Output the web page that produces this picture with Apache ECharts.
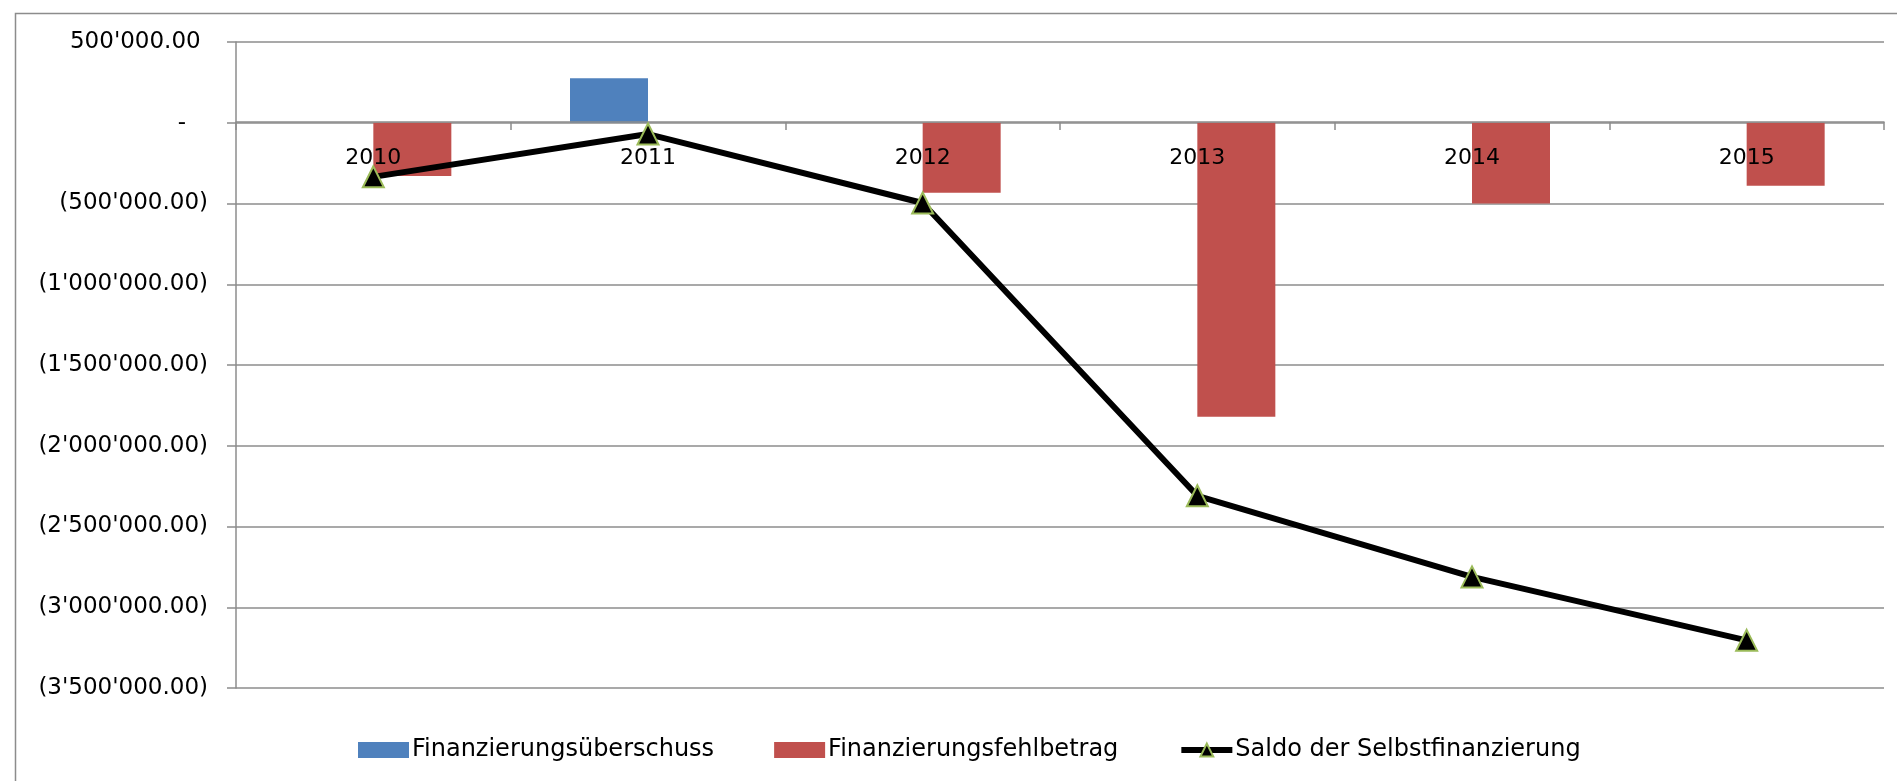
<!DOCTYPE html>
<html>
<head>
<meta charset="utf-8">
<script src="https://cdn.jsdelivr.net/npm/echarts@6/dist/echarts.min.js"></script>
<style>
  html, body { margin: 0; padding: 0; background: #fff; }
  #chart { width: 1897px; height: 781px; }
</style>
</head>
<body>
<div id="chart"></div>
<script>
// Jahre
var years = ['2010', '2011', '2012', '2013', '2014', '2015'];
// Finanzierungsüberschuss (blau)
var ueberschuss = [null, 275000, null, null, null, null];
// Finanzierungsfehlbetrag (rot)
var fehlbetrag = [-330000, null, -433000, -1820000, -500000, -390000];
// Saldo der Selbstfinanzierung (Linie)
var saldo = [-335000, -70000, -497000, -2310000, -2812000, -3205000];

var FONT = 'DejaVu Sans';

function fmt(v) {
  if (v === 0) return '-   ';
  var s = Math.abs(v).toFixed(2);
  var parts = s.split('.');
  var intPart = parts[0].replace(/\B(?=(\d{3})+(?!\d))/g, "'");
  var out = intPart + '.' + parts[1];
  return v < 0 ? '(' + out + ')' : out + ' ';
}

var chart = echarts.init(document.getElementById('chart'));

var option = {
  animation: false,
  backgroundColor: '#fff',
  graphic: [{
    type: 'rect',
    left: 13, top: 11,
    shape: { width: 1920, height: 800 },
    style: { fill: 'none', stroke: '#8c8c8c', lineWidth: 1.5 },
    silent: true
  }],
  grid: { left: 236, right: 13, top: 42, bottom: 93 },
  legend: {
    left: 353,
    top: 733,
    itemWidth: 51,
    itemHeight: 16,
    itemGap: 60,
    textStyle: { fontFamily: FONT, fontSize: 24, color: '#000', padding: [0, 0, 0, -2] },
    data: [
      { name: 'Finanzierungsüberschuss', icon: 'rect' },
      { name: 'Finanzierungsfehlbetrag', icon: 'rect' },
      { name: 'Saldo der Selbstfinanzierung', lineStyle: { width: 6 } }
    ]
  },
  xAxis: {
    type: 'category',
    data: years,
    boundaryGap: true,
    position: 'bottom',
    offset: -566,
    z: 5,
    axisLine: { onZero: false, lineStyle: { color: '#8c8c8c', width: 1.5 } },
    axisTick: { show: true, length: 8, alignWithLabel: false, lineStyle: { color: '#8c8c8c', width: 1.5 } },
    axisLabel: { margin: 25, fontFamily: FONT, fontSize: 22, color: '#000' },
    splitLine: { show: false }
  },
  yAxis: {
    type: 'value',
    min: -3500000,
    max: 500000,
    interval: 500000,
    axisLine: { show: true, lineStyle: { color: '#8c8c8c', width: 1.5 } },
    axisTick: { show: true, length: 9, lineStyle: { color: '#8c8c8c', width: 1.5 } },
    axisLabel: { margin: 28, fontFamily: FONT, fontSize: 23, color: '#000', formatter: fmt },
    splitLine: { show: true, lineStyle: { color: '#8c8c8c', width: 1.5 } }
  },
  series: [
    {
      name: 'Finanzierungsüberschuss',
      type: 'bar',
      data: ueberschuss,
      barWidth: 78,
      barGap: '0%',
      itemStyle: { color: '#4f81bd' }
    },
    {
      name: 'Finanzierungsfehlbetrag',
      type: 'bar',
      data: fehlbetrag,
      barWidth: 78,
      barGap: '0%',
      itemStyle: { color: '#c0504d' }
    },
    {
      name: 'Saldo der Selbstfinanzierung',
      type: 'line',
      data: saldo,
      z: 10,
      symbol: 'triangle',
      symbolSize: 21,
      lineStyle: { color: '#000', width: 6 },
      itemStyle: { color: '#000', borderColor: '#9bbb59', borderWidth: 2 }
    }
  ]
};

chart.setOption(option);
</script>
</body>
</html>
